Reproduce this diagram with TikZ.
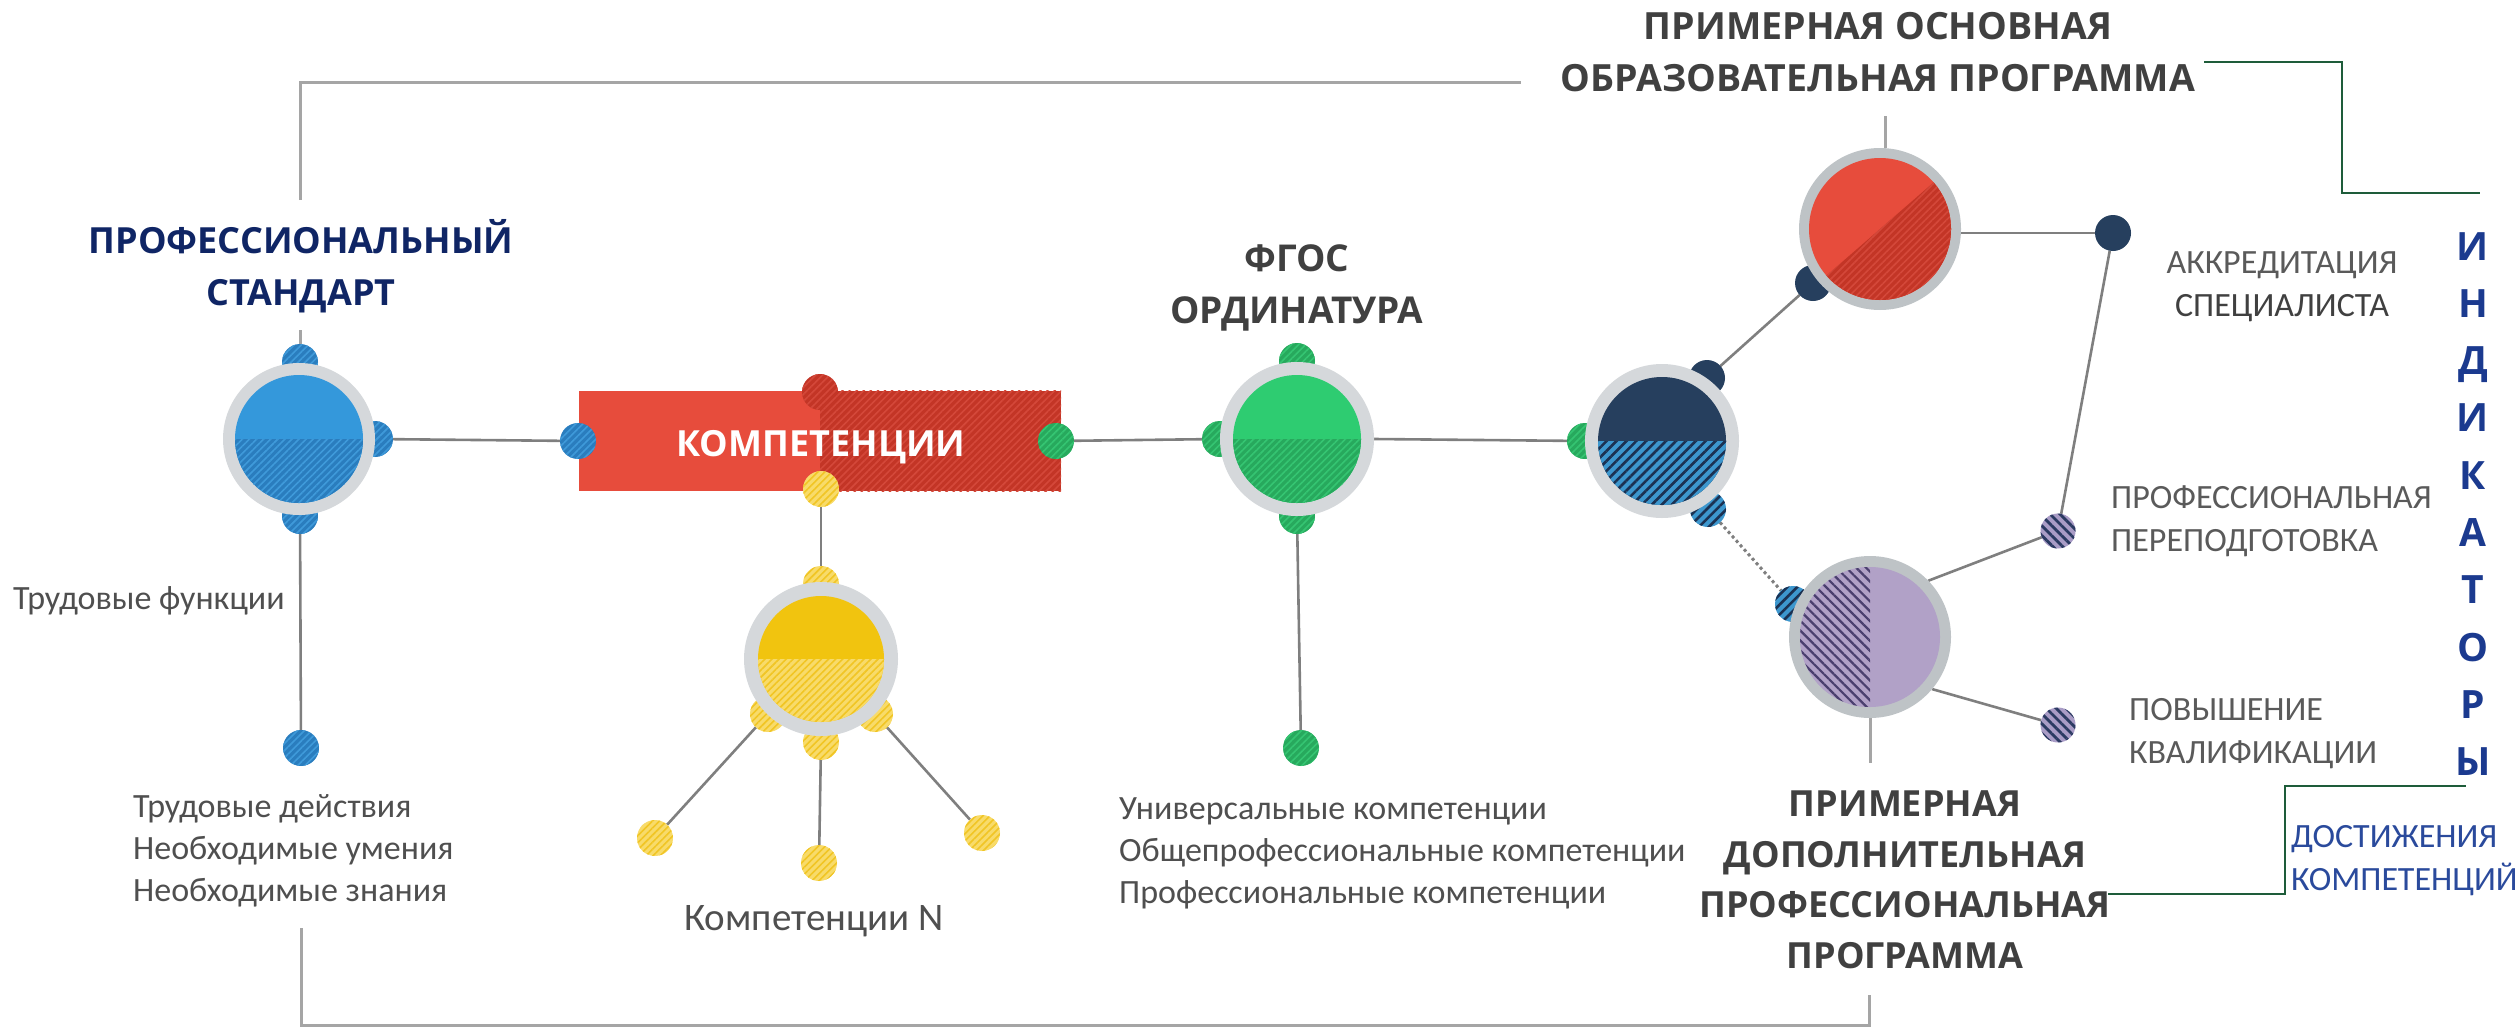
\documentclass[tikz,border=0pt]{standalone}
\usepackage{fontspec}
\setmainfont{Carlito}
\newfontfamily\hdfont{Open Sans}
\usetikzlibrary{patterns.meta,calc}
\pgfdeclarelayer{bg}
\pgfdeclarelayer{mid}
\pgfsetlayers{bg,mid,main}

\definecolor{ringA}{HTML}{D5D8DB}
\definecolor{ringB}{HTML}{BEC3C6}
\definecolor{blueA}{HTML}{3498DB}
\definecolor{blueB}{HTML}{2A7DBE}
\definecolor{blueS}{HTML}{3F9ADA}
\definecolor{greenA}{HTML}{2ECC71}
\definecolor{greenB}{HTML}{27A95D}
\definecolor{greenS}{HTML}{35C572}
\definecolor{yelA}{HTML}{F1C40F}
\definecolor{yelB}{HTML}{F8DB6A}
\definecolor{yelS}{HTML}{F1C524}
\definecolor{redA}{HTML}{E74C3C}
\definecolor{redB}{HTML}{C33526}
\definecolor{redS}{HTML}{D4483A}
\definecolor{navyA}{HTML}{263F5E}
\definecolor{navyB}{HTML}{3D97CE}
\definecolor{navyS}{HTML}{1B3152}
\definecolor{purA}{HTML}{B1A1C7}
\definecolor{purS}{HTML}{4A3F6E}
\definecolor{lavB}{HTML}{A99CC6}
\definecolor{lavS}{HTML}{2B3A62}
\definecolor{linegray}{HTML}{7F7F7F}
\definecolor{framegray}{HTML}{A5A5A5}
\definecolor{greenline}{HTML}{1E5C3A}
\definecolor{txtdark}{HTML}{404040}
\definecolor{txtmid}{HTML}{4F4F4F}
\definecolor{txtlight}{HTML}{5A5A5A}
\definecolor{stdnavy}{HTML}{0F2565}
\definecolor{indblue}{HTML}{1B3A8F}
\definecolor{achblue}{HTML}{2A4A9C}

\tikzset{
  conn/.style={draw=linegray, line width=2.6pt},
  framel/.style={draw=framegray, line width=3pt},
  gline/.style={draw=greenline, line width=2pt},
  dottedconn/.style={draw=linegray, line width=3pt, dash pattern=on 3pt off 3pt},
  dotn/.style={circle, minimum size=36pt, inner sep=0pt, outer sep=0pt},
  hubn/.style={circle, minimum size=#1, inner sep=0pt, outer sep=0pt},
  hatch/.style n args={5}{preaction={fill=#1}, pattern={Lines[angle=#3,distance=#4,line width=#5]}, pattern color=#2},
  hblue/.style={hatch={blueB}{blueS}{45}{5pt}{1.6pt}},
  hgreen/.style={hatch={greenB}{greenS}{45}{5pt}{1.6pt}},
  hyel/.style={hatch={yelB}{yelS}{45}{5pt}{1.6pt}},
  hred/.style={hatch={redB}{redS}{45}{5pt}{1.6pt}},
  hnavy/.style={hatch={navyB}{navyS}{45}{7pt}{2.6pt}},
  hpur/.style={hatch={purA}{purS}{-45}{7pt}{2.2pt}},
  hlav/.style={hatch={lavB}{lavS}{-45}{7pt}{2.8pt}},
  head/.style={font=\hdfont\bfseries\fontsize{36}{52}\selectfont, text=txtdark, align=center, inner sep=0pt},
  txt/.style={font=\fontsize{34}{42}\selectfont, text=txtmid, inner sep=0pt},
  rtxt/.style={font=\fontsize{34}{43}\selectfont, text=txtlight, inner sep=0pt},
}

\newcommand\hubfill[7]{%
  \fill[#4] (#1) circle[radius=#2];
  \fill[#5] (#1) circle[radius=#3];
  \begin{scope}
    \clip (#1) circle[radius=#3];
    \path[#6] ($(#1)+({#7+90}:150pt)$) -- ($(#1)+(#7:150pt)$) -- ($(#1)+({#7-90}:150pt)$) -- cycle;
  \end{scope}}

\begin{document}
\begin{tikzpicture}[x=1pt,y=-1pt]
\useasboundingbox (0,0) rectangle (2515,1028);

% hub nodes (shapes filled later)
\node[hubn=152pt] (B) at (299,439) {};
\node[hubn=154pt] (Y) at (821,659) {};
\node[hubn=154pt] (G) at (1297,439) {};
\node[hubn=154pt] (N) at (1662,441) {};
\node[hubn=162pt] (Rd) at (1880,229) {};
\node[hubn=162pt] (P) at (1870,637) {};
\node[minimum width=482pt, minimum height=100pt, inner sep=0pt] (komp) at (820,441) {};

% small dots
\begin{pgfonlayer}{mid}
\node[dotn, hblue] (bt) at (300,362) {};
\node[dotn, hblue] (br) at (375,439) {};
\node[dotn, hblue] (bb) at (300,516) {};
\node[dotn, hblue] (bl2) at (301,748) {};
\node[dotn, hblue] (kl) at (578,441) {};
\node[dotn, hgreen] (kr) at (1056,441) {};
\node[dotn, hred] (kt) at (820,392) {};
\node[dotn, hyel] (kb) at (821,489) {};
\node[dotn, hyel] (yt) at (821,584) {};
\node[dotn, hyel] (ybl) at (768,714) {};
\node[dotn, hyel] (yb) at (821,742) {};
\node[dotn, hyel] (ybr) at (875,714) {};
\node[dotn, hyel] (ye1) at (655,838) {};
\node[dotn, hyel] (ye2) at (819,863) {};
\node[dotn, hyel] (ye3) at (982,833) {};
\node[dotn, hgreen] (gt) at (1297,361) {};
\node[dotn, hgreen] (gl) at (1220,439) {};
\node[dotn, hgreen] (gb) at (1297,516) {};
\node[dotn, hgreen] (gl2) at (1301,748) {};
\node[dotn, hgreen] (nl) at (1585,441) {};
\node[dotn, fill=navyA] (nur) at (1707,378) {};
\node[dotn, hnavy] (nlr) at (1708,509) {};
\node[dotn, fill=navyA] (rll) at (1813,283) {};
\node[dotn, hnavy] (pul) at (1793,604) {};
\node[dotn, fill=navyA] (ak) at (2113,233) {};
\node[dotn, hlav, minimum size=35pt] (pp) at (2058,531) {};
\node[dotn, hlav, minimum size=35pt] (pk) at (2058,725) {};
\end{pgfonlayer}

% connectors
\begin{pgfonlayer}{bg}
\coordinate (ftl) at (300,82);
\coordinate (ftr) at (1521,82);
\coordinate (ftd) at (300,200);
\coordinate (btup) at (300,330);
\coordinate (fbl) at (301,928);
\coordinate (fbc) at (301,1025);
\coordinate (fbr) at (1869,1025);
\coordinate (fbu) at (1869,995);
\coordinate (rdtop) at (1885,116);
\draw[framel] (ftd) -- (ftl) -- (ftr);
\draw[framel] (bt) -- (btup);
\draw[framel] (fbl) -- (fbc) -- (fbr) -- (fbu);
\draw[framel] (rdtop) -- (rdtop |- Rd.north);
\draw[framel] (P.south) -- ++(0,45);
\draw[conn] (br) -- (kl);
\draw[conn] (bb) -- (bl2);
\draw[conn] (kr) -- (gl);
\draw[conn] (kb) -- (yt);
\draw[conn] (ybl) -- (ye1);
\draw[conn] (yb) -- (ye2);
\draw[conn] (ybr) -- (ye3);
\draw[conn] (gb) -- (gl2);
\draw[conn] (G.east) -- (nl);
\draw[conn] (nur) -- (rll);
\draw[dottedconn] (nlr) -- (pul);
\draw[conn] (Rd.east |- ak) -- (ak);
\draw[conn] (ak) -- (pp);
\draw[conn] (P.44) -- (pp);
\draw[conn] (P.-40) -- (pk);
\coordinate (g1a) at (2204,62);
\coordinate (g1b) at (2342,62);
\coordinate (g1c) at (2342,193);
\coordinate (g1d) at (2480,193);
\coordinate (g2a) at (2108,894);
\coordinate (g2b) at (2285,894);
\coordinate (g2c) at (2285,786);
\coordinate (g2d) at (2466,786);
\draw[gline] (g1a) -- (g1b) -- (g1c) -- (g1d);
\draw[gline] (g2a) -- (g2b) -- (g2c) -- (g2d);
% competence bar
\fill[redA] (komp.south west) rectangle (komp.north);
\path[hred] (komp.north) rectangle (komp.south east);
\end{pgfonlayer}

% hubs
\hubfill{B}{76pt}{64pt}{ringA}{blueA}{hblue}{-90}
\hubfill{Y}{77pt}{63pt}{ringA}{yelA}{hyel}{-90}
\hubfill{G}{77pt}{64pt}{ringA}{greenA}{hgreen}{-90}
\hubfill{N}{77pt}{64pt}{ringA}{navyA}{hnavy}{-90}
\hubfill{Rd}{81pt}{71pt}{ringB}{redA}{hred}{-49}
\hubfill{P}{81pt}{70pt}{ringB}{purA}{hpur}{180}

% texts
\node[head, text=stdnavy] (std) at (301,266) {ПРОФЕССИОНАЛЬНЫЙ\\СТАНДАРТ};
\node[head, font=\hdfont\bfseries\fontsize{37}{52}\selectfont] (fgos) at (1297,288) {ФГОС\\ОРДИНАТУРА};
\node[head, font=\hdfont\bfseries\fontsize{37.5}{52}\selectfont] (poop) at (1878,52) {ПРИМЕРНАЯ ОСНОВНАЯ\\ОБРАЗОВАТЕЛЬНАЯ ПРОГРАММА};
\node[head, font=\hdfont\bfseries\fontsize{36}{50.5}\selectfont] (dpp) at (1905,880) {ПРИМЕРНАЯ\\ДОПОЛНИТЕЛЬНАЯ\\ПРОФЕССИОНАЛЬНАЯ\\ПРОГРАММА};
\node[font=\hdfont\bfseries\fontsize{36}{40}\selectfont, text=white, inner sep=0pt] (kompt) at (821,447) {КОМПЕТЕНЦИИ};
\node[txt, anchor=base west] (tf) at (13,609) {Трудовые функции};
\node[txt, align=left, anchor=west] (tdl) at (133,851) {Трудовые действия\\Необходимые умения\\Необходимые знания};
\node[txt, align=left, anchor=west] (fgl) at (1119,853) {Универсальные компетенции\\Общепрофессиональные компетенции\\Профессиональные компетенции};
\node[txt, font=\fontsize{39}{44}\selectfont] (kn) at (814,921) {Компетенции N};
\node[rtxt, align=center] (akt) at (2282,287) {АККРЕДИТАЦИЯ\\\textcolor{txtdark}{СПЕЦИАЛИСТА}};
\node[rtxt, align=left, anchor=west] (ppt) at (2111,521) {ПРОФЕССИОНАЛЬНАЯ\\ПЕРЕПОДГОТОВКА};
\node[rtxt, align=left, anchor=west] (pkt) at (2129,734) {ПОВЫШЕНИЕ\\КВАЛИФИКАЦИИ};
\node[rtxt, text=achblue, align=left, anchor=west] (ach) at (2291,861) {ДОСТИЖЕНИЯ\\КОМПЕТЕНЦИЙ};
\node[font=\hdfont\bfseries\fontsize{39}{57.3}\selectfont, text=indblue, align=center, inner sep=0pt] (ind) at (2473,504) {И\\Н\\Д\\И\\К\\А\\Т\\О\\Р\\Ы};
\end{tikzpicture}
\end{document}
